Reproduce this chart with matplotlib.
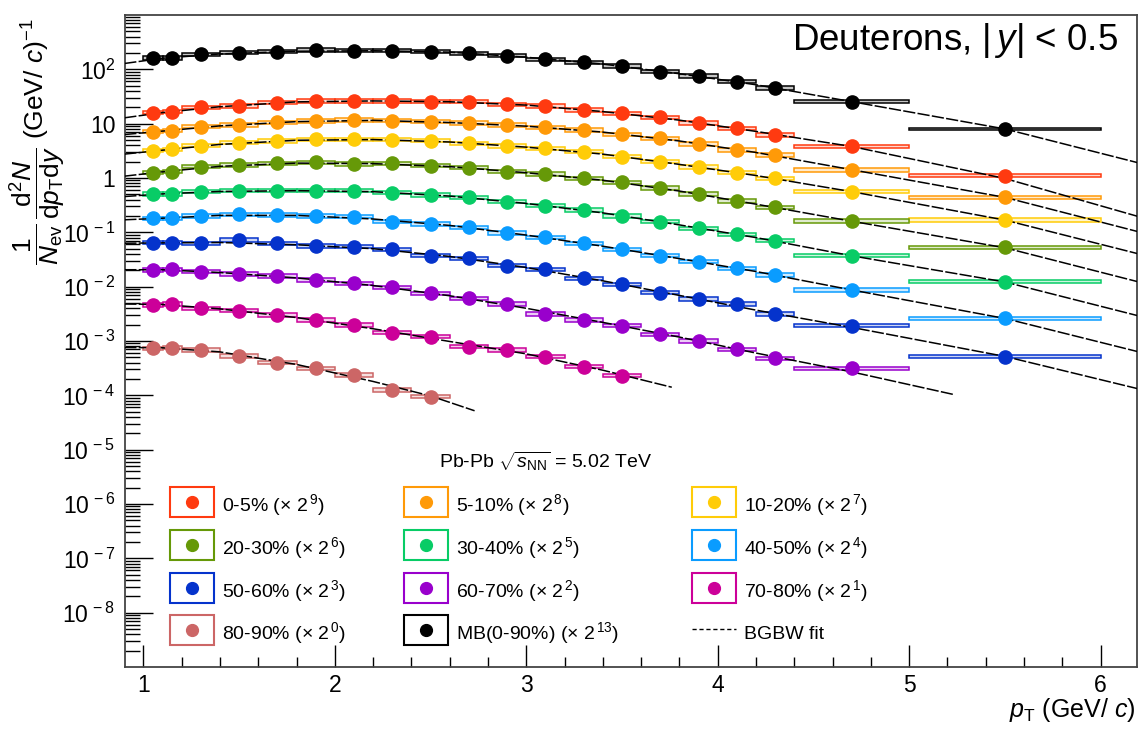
import numpy as np
import matplotlib
matplotlib.use("Agg")
import matplotlib.pyplot as plt
from matplotlib.patches import Rectangle
from matplotlib.lines import Line2D
from matplotlib.ticker import FixedLocator, LogLocator, MultipleLocator, FuncFormatter, NullFormatter

plt.rcParams['font.family'] = ['Liberation Sans', 'DejaVu Sans']
plt.rcParams['mathtext.fontset'] = 'custom'
plt.rcParams['mathtext.rm'] = 'Liberation Sans'
plt.rcParams['mathtext.it'] = 'Liberation Sans:italic'
plt.rcParams['mathtext.bf'] = 'Liberation Sans:bold'
plt.rcParams['mathtext.sf'] = 'Liberation Sans'

# ---------------- data ----------------
pt_centers = [1.05, 1.15, 1.3, 1.5, 1.7, 1.9, 2.1, 2.3, 2.5, 2.7, 2.9, 3.1, 3.3, 3.5, 3.7, 3.9, 4.1, 4.3, 4.7, 5.5]
pt_low = [1.0, 1.1, 1.2, 1.4, 1.6, 1.8, 2.0, 2.2, 2.4, 2.6, 2.8, 3.0, 3.2, 3.4, 3.6, 3.8, 4.0, 4.2, 4.4, 5.0]
pt_high = [1.1, 1.2, 1.4, 1.6, 1.8, 2.0, 2.2, 2.4, 2.6, 2.8, 3.0, 3.2, 3.4, 3.6, 3.8, 4.0, 4.2, 4.4, 5.0, 6.0]

y_0_5 = [15.9, 16.6, 20.0, 21.2, 24.4, 26.2, 26.2, 26.0, 25.4, 25.4, 22.7, 21.2, 17.9, 15.5, 13.1, 10.2, 8.2, 6.2, 3.8, 1.1]
y_5_10 = [7.13, 7.43, 8.81, 9.46, 10.6, 11.2, 11.7, 11.4, 10.9, 10.2, 9.46, 8.59, 7.66, 6.38, 5.39, 4.23, 3.28, 2.65, 1.41, 0.442]
y_10_20 = [3.18, 3.38, 3.94, 4.47, 4.81, 5.17, 5.17, 5.10, 4.87, 4.36, 3.89, 3.53, 3.05, 2.47, 2.00, 1.58, 1.25, 0.99, 0.56, 0.169]
y_20_30 = [1.25, 1.31, 1.62, 1.74, 1.87, 1.95, 1.81, 1.87, 1.69, 1.55, 1.31, 1.19, 0.99, 0.83, 0.65, 0.51, 0.378, 0.289, 0.162, 0.053]
y_30_40 = [0.508, 0.508, 0.560, 0.584, 0.584, 0.584, 0.584, 0.537, 0.488, 0.442, 0.367, 0.310, 0.258, 0.200, 0.157, 0.119, 0.092, 0.070, 0.0372, 0.0124]
y_40_50 = [0.1815, 0.1815, 0.200, 0.215, 0.209, 0.200, 0.194, 0.157, 0.143, 0.123, 0.0972, 0.0811, 0.0629, 0.0488, 0.0372, 0.0288, 0.0218, 0.0164, 0.00869, 0.00262]
y_50_60 = [0.0645, 0.0645, 0.0629, 0.0723, 0.0629, 0.0561, 0.0545, 0.0484, 0.0372, 0.0333, 0.0243, 0.0209, 0.01426, 0.01106, 0.00775, 0.00593, 0.00480, 0.00314, 0.00191, 0.000514]
y_60_70 = [0.0203, 0.0209, 0.0189, 0.0171, 0.0157, 0.0133, 0.0115, 0.00975, 0.00755, 0.00611, 0.00480, 0.00314, 0.00244, 0.00191, 0.00133, 0.00100, 0.000704, 0.000481, 0.000315]
y_70_80 = [0.00460, 0.00480, 0.00400, 0.00361, 0.00301, 0.00244, 0.00197, 0.00142, 0.00120, 0.000786, 0.000684, 0.000515, 0.000337, 0.000230]
y_80_90 = [0.000735, 0.000754, 0.000684, 0.000530, 0.000399, 0.000315, 0.000237, 0.000125, 0.0000944]
y_mb = [162, 162, 189, 203, 211, 227, 221, 221, 211, 198, 179, 153, 135, 115, 91, 75, 59, 45, 25.4, 8.0]

# relative systematic uncertainty (half height of boxes)
syst_rel = 0.075
syst_mb = [0.075] * 19 + [0.03]

# BGBW fit curves
fit_x = [0.9, 1.1, 1.4, 1.8, 2.2, 2.6, 3.0, 3.4, 3.8, 4.2, 4.7, 5.5, 6.2]
fit_0_5 = [12.8, 16.0, 20.5, 25.2, 26.2, 25.3, 22.0, 16.7, 11.6, 7.2, 3.8, 0.98, 0.194]
fit_5_10 = [6.3, 7.3, 9.1, 10.9, 11.5, 10.5, 9.0, 7.0, 4.8, 2.95, 1.42, 0.44, 0.102]
fit_10_20 = [2.75, 3.25, 4.15, 4.95, 5.1, 4.6, 3.7, 2.75, 1.78, 1.11, 0.56, 0.168, 0.040]
fit_20_30 = [1.08, 1.3, 1.64, 1.88, 1.84, 1.62, 1.25, 0.91, 0.575, 0.33, 0.16, 0.052, 0.0122]
fit_30_40 = [0.455, 0.51, 0.565, 0.585, 0.56, 0.465, 0.34, 0.228, 0.137, 0.080, 0.037, 0.0122, 0.00289]
fit_40_50 = [0.17, 0.182, 0.205, 0.205, 0.176, 0.134, 0.089, 0.0555, 0.0328, 0.019, 0.0087, 0.0026, 0.00063]
fit_50_60 = [0.063, 0.064, 0.065, 0.059, 0.050, 0.036, 0.0225, 0.0128, 0.0069, 0.0037, 0.00178, 0.00052, 0.000131]
fit_mb = [128, 160, 192, 215, 220, 207, 167, 125, 83, 52, 25.4, 8.0, 1.89]
fit_x_60_70 = [0.9, 1.1, 1.4, 1.8, 2.2, 2.6, 3.0, 3.4, 3.8, 4.2, 4.7, 5.23]
fit_60_70 = [0.0205, 0.0205, 0.0182, 0.0145, 0.0105, 0.0068, 0.0040, 0.0022, 0.00118, 0.00060, 0.00027, 0.000104]
fit_x_70_80 = [0.9, 1.1, 1.4, 1.8, 2.2, 2.6, 3.0, 3.4, 3.76]
fit_70_80 = [0.0048, 0.0047, 0.0039, 0.0027, 0.00168, 0.00098, 0.00058, 0.00029, 0.000141]
fit_x_80_90 = [0.9, 1.1, 1.4, 1.8, 2.2, 2.5, 2.73]
fit_80_90 = [0.00076, 0.00075, 0.00063, 0.00037, 0.00018, 0.0000975, 0.000052]

labels = ['0-5%', '5-10%', '10-20%', '20-30%', '30-40%', '40-50%',
          '50-60%', '60-70%', '70-80%', '80-90%', 'MB(0-90%)']
exponents = [9, 8, 7, 6, 5, 4, 3, 2, 1, 0, 13]
colors = ['#FF3A10', '#FF9A08', '#FFCC08', '#669908', '#08CC66', '#0A9CFF',
          '#0533CC', '#9900CC', '#CC0099', '#CC6666', '#000000']
series_y = [y_0_5, y_5_10, y_10_20, y_20_30, y_30_40, y_40_50, y_50_60,
            y_60_70, y_70_80, y_80_90, y_mb]
series_fit_x = [fit_x] * 7 + [fit_x_60_70, fit_x_70_80, fit_x_80_90, fit_x]
series_fit_y = [fit_0_5, fit_5_10, fit_10_20, fit_20_30, fit_30_40, fit_40_50,
                fit_50_60, fit_60_70, fit_70_80, fit_80_90, fit_mb]

# ---------------- figure ----------------
W, H = 1140, 729
fig = plt.figure(figsize=(W / 100, H / 100), dpi=100)
ax = fig.add_axes([125 / W, 1 - 667 / H, (1137 - 125) / W, (667 - 15) / H])
ax.set_yscale('log')
ax.set_xlim(0.904, 6.19)
ax.set_ylim(1e-9, 1e3)


def tint(c, f=0.8):
    rgb = np.array(matplotlib.colors.to_rgb(c))
    return tuple(rgb + (1 - rgb) * f)


for k, (ys, col) in enumerate(zip(series_y, colors)):
    n = len(ys)
    is_mb = (k == len(series_y) - 1)
    face = '#c4c4c4' if is_mb else tint(col)
    for i in range(n):
        s = syst_mb[i] if is_mb else syst_rel
        lo = ys[i] / (1 + s)
        hi = ys[i] * (1 + s)
        ax.add_patch(Rectangle((pt_low[i], lo), pt_high[i] - pt_low[i], hi - lo,
                               facecolor=face, edgecolor=col, lw=1.1, zorder=2))
    ax.plot(series_fit_x[k], series_fit_y[k], color='black', lw=1.1,
            ls=(0, (8, 1.5)), zorder=3)
    ax.plot(pt_centers[:n], ys, 'o', color=col, mec=col, ms=9.5, zorder=4, clip_on=False)

# axes style
for sp in ax.spines.values():
    sp.set_color('#444444')
    sp.set_linewidth(1.3)
ax.xaxis.set_major_locator(FixedLocator([1, 2, 3, 4, 5, 6]))
ax.xaxis.set_minor_locator(MultipleLocator(0.2))
ax.yaxis.set_major_locator(FixedLocator([10.0 ** e for e in range(-8, 3)]))
ax.yaxis.set_minor_locator(LogLocator(base=10, subs=np.arange(2, 10), numticks=100))
ax.yaxis.set_minor_formatter(NullFormatter())


def yfmt(v, pos):
    e = int(round(np.log10(v)))
    if e == 0:
        return '1'
    if e == 1:
        return '10'
    if e < 0:
        return r'$10^{\,%d}$' % e
    return r'$10^{%d}$' % e


ax.yaxis.set_major_formatter(FuncFormatter(yfmt))
ax.tick_params(axis='both', which='both', direction='in', top=False, right=False,
               color='black', width=1.0)
ax.tick_params(axis='y', which='major', length=20, pad=7, labelsize=16.5)
ax.tick_params(axis='y', which='minor', length=10.8)
ax.tick_params(axis='x', which='major', length=15.6, pad=5, labelsize=16.5)
ax.tick_params(axis='x', which='minor', length=7.2)

# labels
fig.text(37 / W, 1 - 18 / H,
         r'$\dfrac{1}{N_{\rm ev}}\,\dfrac{{\rm d}^2N}{{\rm d}p_{\rm T}{\rm d}y}$ (GeV/ $c$)$^{-1}$',
         rotation=90, ha='center', va='top', fontsize=19)
fig.text(1135 / W, 1 - 717 / H, r'$p_{\rm T}$ (GeV/ $c$)', ha='right', va='baseline', fontsize=18)
fig.text(1118 / W, 1 - 50 / H, r'Deuterons, $|\,y|$ < 0.5', ha='right', va='baseline', fontsize=26.5)

# legend (manual, ROOT style)
fig.text(439 / W, 1 - 468 / H, r'Pb-Pb $\sqrt{s_{\rm NN}}$ = 5.02 TeV', ha='left', va='baseline', fontsize=14)
rows_y = [502, 545, 588, 630]
cols_x = [170, 404, 692]
for k in range(len(labels) + 1):
    r, c = divmod(k, 3)
    x0, yc = cols_x[c], rows_y[r]
    if k < len(labels):
        col = colors[k]
        fig.add_artist(Rectangle((x0 / W, 1 - (yc + 15) / H), 44 / W, 30 / H,
                                 transform=fig.transFigure, fill=False, edgecolor=col, lw=1.5))
        fig.add_artist(Line2D([(x0 + 22) / W], [1 - yc / H], marker='o', ms=8.5,
                              color=col, mec=col, transform=fig.transFigure))
        txt = labels[k] + r' (× 2$^{\,%d}$)' % exponents[k]
    else:
        fig.add_artist(Line2D([x0 / W, (x0 + 44) / W], [1 - (yc - 1) / H, 1 - (yc - 1) / H],
                              color='black', lw=1.0, ls=(0, (3, 2)), transform=fig.transFigure))
        txt = 'BGBW fit'
    fig.text((x0 + 52) / W, 1 - (yc + 9) / H, txt, ha='left', va='baseline', fontsize=14)

fig.savefig('out.png', dpi=100)
